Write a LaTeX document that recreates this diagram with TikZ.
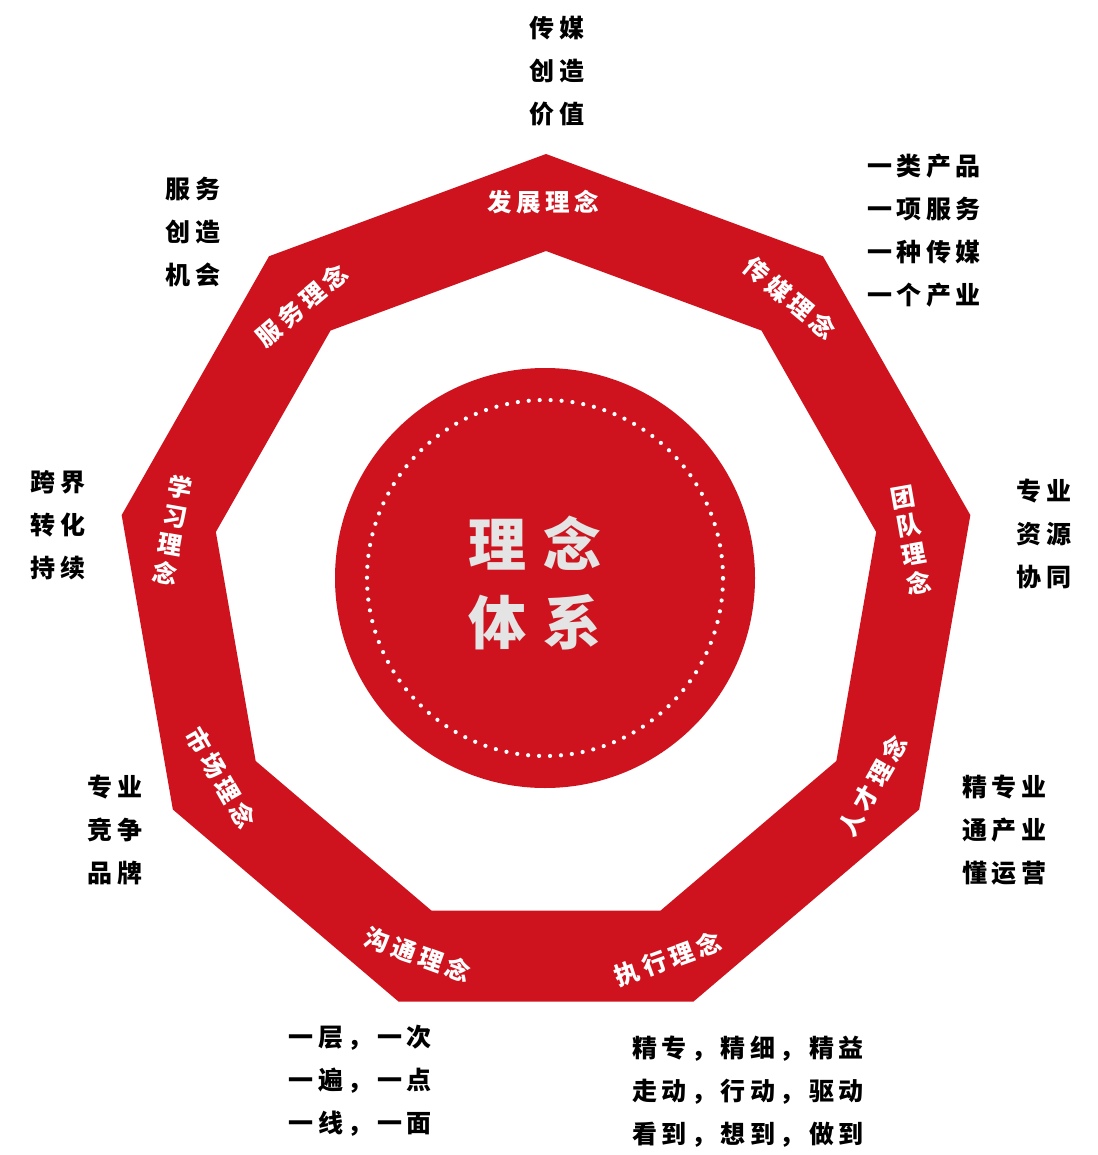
\documentclass[tikz,border=0pt]{standalone}
\usepackage{fontspec}
\newfontfamily\cjk{Noto Sans CJK SC}[LetterSpace=18]
\newfontfamily\cjkc{Noto Sans CJK SC}
\definecolor{ringred}{RGB}{206,19,30}
\definecolor{silver}{RGB}{228,228,228}
\tikzset{
  outlabel/.style={text=black, font=\cjk\bfseries\fontsize{25}{43}\selectfont, align=center, inner sep=0pt},
  ringlabel/.style={text=white, font=\cjk\bfseries\fontsize{24.5}{29}\selectfont, align=center, inner sep=0pt},
  corechar/.style={text=silver, font=\cjkc\bfseries\fontsize{58}{60}\selectfont, inner sep=0pt},
}
\begin{document}
\begin{tikzpicture}[x=1pt,y=1pt]
\useasboundingbox (0,0) rectangle (1097,-1155);
% ring (nonagon band)
\begin{scope}[shift={(546,-591)}, xscale=0.986]
\fill[ringred, even odd rule]
  (90:437) -- (50:437) -- (10:437) -- (-30:437) -- (-70:437) -- (-110:437) -- (-150:437) -- (170:437) -- (130:437) -- cycle
  (90:340) -- (50:340) -- (10:340) -- (-30:340) -- (-70:340) -- (-110:340) -- (-150:340) -- (170:340) -- (130:340) -- cycle;
\end{scope}
% core circle
\node[circle, fill=ringred, minimum size=420pt, inner sep=0pt] (core) at (545,-578) {};
\draw[white, line width=4.2pt, line cap=round, dash pattern=on 0pt off 10.96pt] (core.center) circle (178);
% core text
\node[corechar] (row1) at (535,-543) {理\hspace{17pt}念};
\node[corechar] (row2) at (535,-622) {体\hspace{17pt}系};
% ring labels
\node[ringlabel] (l1) at (543,-202) {发展理念};
\node[ringlabel, rotate=-40] (l2) at (790,-298) {传媒理念};
\node[ringlabel, rotate=10] (l3) at (911,-540) {团\\队\\理\\念};
\node[ringlabel, rotate=60] (l4) at (873,-786) {人才理念};
\node[ringlabel, rotate=20] (l5) at (668,-959) {执行理念};
\node[ringlabel, rotate=-20] (l6) at (418,-955) {沟通理念};
\node[ringlabel, rotate=-60] (l7) at (221,-778) {市场理念};
\node[ringlabel, rotate=-10] (l8) at (173,-530) {学\\习\\理\\念};
\node[ringlabel, rotate=40] (l9) at (302,-305) {服务理念};
% outer texts
\node[outlabel] (o1) at (557,-71) {传媒\\创造\\价值};
\node[outlabel] (o2) at (924,-231) {一类产品\\一项服务\\一种传媒\\一个产业};
\node[outlabel] (o3) at (1044,-534) {专业\\资源\\协同};
\node[outlabel] (o4) at (1004,-830) {精专业\\通产业\\懂运营};
\node[outlabel] (o5) at (748,-1092) {精专，精细，精益\\走动，行动，驱动\\看到，想到，做到};
\node[outlabel] (o6) at (360,-1081) {一层，一次\\一遍，一点\\一线，一面};
\node[outlabel] (o7) at (115,-830) {专业\\竞争\\品牌};
\node[outlabel] (o8) at (58,-525) {跨界\\转化\\持续};
\node[outlabel] (o9) at (193,-232) {服务\\创造\\机会};
\end{tikzpicture}
\end{document}
